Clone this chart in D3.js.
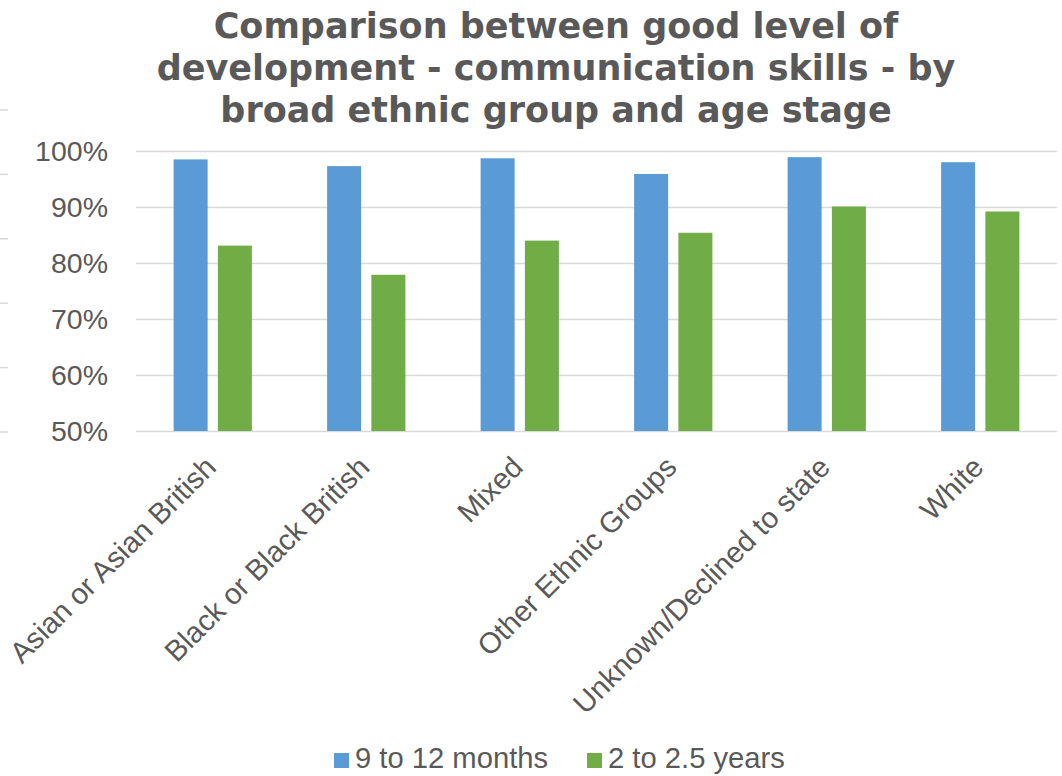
<!DOCTYPE html>
<html>
<head>
<meta charset="utf-8">
<script src="https://cdn.jsdelivr.net/npm/d3@7"></script>
<style>
  html, body { margin: 0; padding: 0; background: #ffffff; }
  svg { display: block; }
</style>
</head>
<body>
<svg id="chart" width="1062" height="776"></svg>
<script>
// Share of children reaching a good level of development (communication skills)
const categories = [
  "Asian or Asian British",
  "Black or Black British",
  "Mixed",
  "Other Ethnic Groups",
  "Unknown/Declined to state",
  "White"
];
const seriesNames = ["9 to 12 months", "2 to 2.5 years"];
const months9to12 = [98.5, 97.3, 98.7, 95.9, 98.9, 98.0];
const years2to2_5 = [83.1, 77.9, 84.0, 85.4, 90.1, 89.2];
const yTicks = [50, 60, 70, 80, 90, 100];
const titleLines = [
  "Comparison between good level of",
  "development - communication skills - by",
  "broad ethnic group and age stage"
];

const seriesValues = [months9to12, years2to2_5];
const colors = ["#5b9bd5", "#70ad47"];
const textColor = "#595959";
const gridColor = "#d9d9d9";
const axisFont = "'Liberation Sans', Arial, sans-serif";

const svg = d3.select("#chart");

const plot = { left: 136, right: 1057, top: 151, bottom: 431 };

const x0 = d3.scaleBand()
  .domain(categories)
  .range([plot.left, plot.right])
  .paddingInner(0.49)
  .paddingOuter(0.245);

const x1 = d3.scaleBand()
  .domain(seriesNames)
  .range([0, x0.bandwidth()])
  .paddingInner(0.232);

const y = d3.scaleLinear()
  .domain([50, 100])
  .range([plot.bottom, plot.top]);

// Title
svg.append("g")
  .selectAll("text")
  .data(titleLines)
  .join("text")
  .attr("x", 556)
  .attr("y", (d, i) => 38 + i * 42)
  .attr("text-anchor", "middle")
  .attr("font-family", "'DejaVu Sans', Verdana, sans-serif")
  .attr("font-weight", "bold")
  .attr("font-size", 35)
  .attr("fill", textColor)
  .text(d => d);

// Faint tick stubs at the far left edge
const stubScale = d3.scaleLinear().domain([0, 5]).range([110, 432]);
svg.append("g")
  .selectAll("line")
  .data(d3.range(6))
  .join("line")
  .attr("x1", 0).attr("x2", 8)
  .attr("y1", d => stubScale(d)).attr("y2", d => stubScale(d))
  .attr("stroke", gridColor)
  .attr("stroke-width", 1.5);

// Gridlines and y axis labels
const yAxis = d3.axisLeft(y)
  .tickValues(yTicks)
  .tickSize(-(plot.right - plot.left))
  .tickPadding(28)
  .tickFormat(d => d + "%");

const yG = svg.append("g")
  .attr("transform", `translate(${plot.left},0)`)
  .call(yAxis);
yG.select(".domain").remove();
yG.selectAll(".tick line")
  .attr("stroke", gridColor)
  .attr("stroke-width", 1.5);
yG.selectAll(".tick text")
  .attr("font-family", axisFont)
  .attr("font-size", 28.5)
  .attr("fill", textColor)
  .attr("dy", "0.34em");

// Bars
const groups = svg.append("g")
  .selectAll("g")
  .data(categories)
  .join("g")
  .attr("transform", d => `translate(${x0(d)},0)`);

groups.selectAll("rect")
  .data((d, i) => seriesNames.map((s, k) => ({ series: s, k, value: seriesValues[k][i] })))
  .join("rect")
  .attr("x", d => x1(d.series))
  .attr("width", x1.bandwidth())
  .attr("y", d => y(d.value))
  .attr("height", d => y(50) - y(d.value))
  .attr("fill", d => colors[d.k]);

// Category labels, rotated
svg.append("g")
  .selectAll("text")
  .data(categories)
  .join("text")
  .attr("transform", d => `translate(${x0(d) + x0.bandwidth() / 2 + 5},469) rotate(-45)`)
  .attr("text-anchor", "end")
  .attr("font-family", axisFont)
  .attr("font-size", 29.3)
  .attr("fill", textColor)
  .text(d => d);

// Legend
const legendX = [334, 587];
const legend = svg.append("g")
  .selectAll("g")
  .data(seriesNames)
  .join("g")
  .attr("transform", (d, i) => `translate(${legendX[i]},753)`);
legend.append("rect")
  .attr("width", 15).attr("height", 15)
  .attr("fill", (d, i) => colors[i]);
legend.append("text")
  .attr("x", 21)
  .attr("y", 15)
  .attr("font-family", axisFont)
  .attr("font-size", 29.2)
  .attr("fill", textColor)
  .text(d => d);
</script>
</body>
</html>
